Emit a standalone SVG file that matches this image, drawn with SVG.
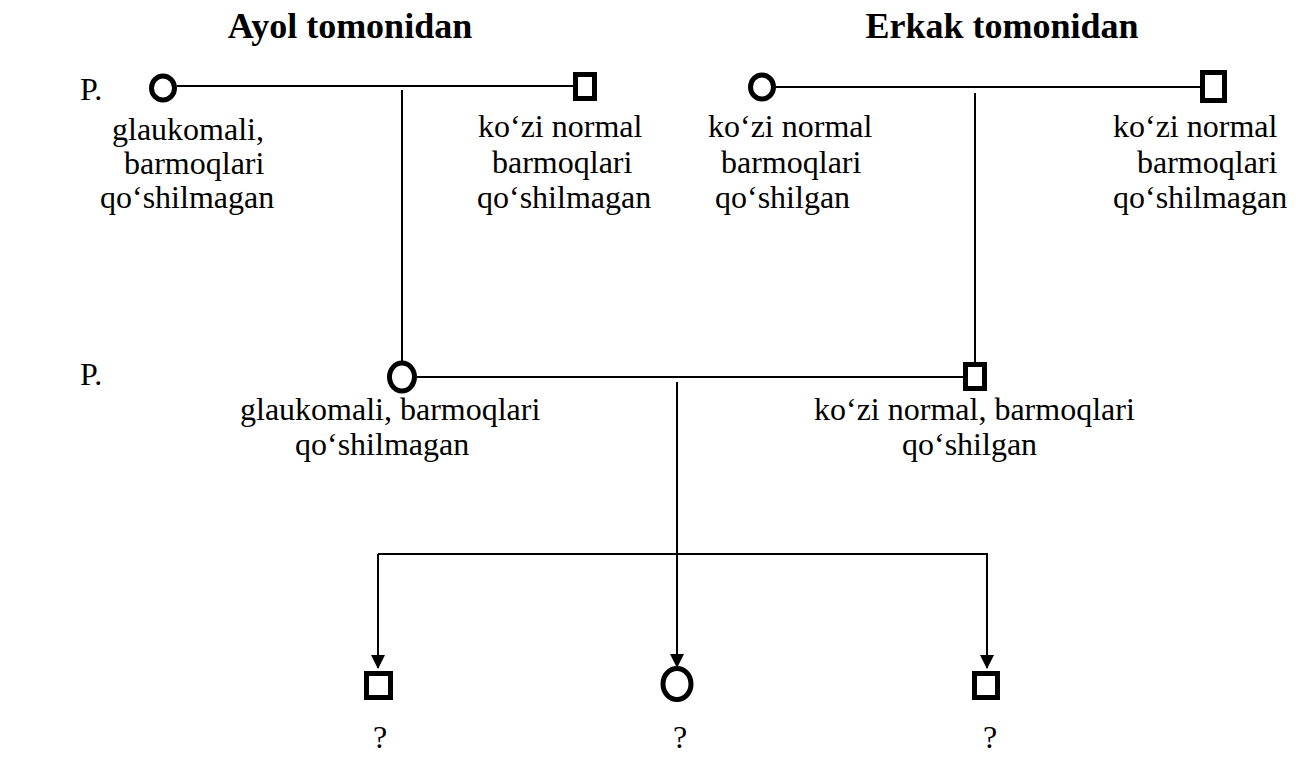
<svg xmlns="http://www.w3.org/2000/svg" width="1301" height="758" viewBox="0 0 1301 758">
<defs>
<style>
.t{font-family:"Liberation Serif","Times New Roman",serif;font-size:32px;fill:#000}
.h{font-family:"Liberation Serif","Times New Roman",serif;font-size:36px;font-weight:bold;fill:#000}
.ln{stroke:#000;stroke-width:2;fill:none}
.sym{stroke:#000;stroke-width:5;fill:#fff}
</style>
<marker id="arr" markerWidth="14" markerHeight="14" refX="7" refY="13" orient="auto-start-reverse" markerUnits="userSpaceOnUse" viewBox="0 0 14 14">
<path d="M0,0 L14,0 L7,14 Z" fill="#000" transform="rotate(0)"/>
</marker>
<marker id="arrd" markerWidth="14" markerHeight="14" refX="13" refY="7" orient="auto" markerUnits="userSpaceOnUse" viewBox="0 0 14 14">
<path d="M0,0 L14,7 L0,14 Z" fill="#000"/>
</marker>
</defs>
<rect width="1301" height="758" fill="#fff"/>
<text class="h" x="350" y="38" text-anchor="middle">Ayol tomonidan</text>
<text class="h" x="1002" y="38" text-anchor="middle">Erkak tomonidan</text>
<text class="t" x="80" y="100">P.</text>
<text class="t" x="80" y="385">P.</text>
<g id="connectors">
<line class="ln" x1="177" y1="86" x2="574" y2="86"/>
<line class="ln" x1="402" y1="90" x2="402" y2="363"/>
<line class="ln" x1="776" y1="87" x2="1201" y2="87"/>
<line class="ln" x1="975" y1="93" x2="975" y2="363"/>
<line class="ln" x1="417" y1="377" x2="964" y2="377"/>
<line class="ln" x1="677" y1="382" x2="677" y2="554"/>
<line class="ln" x1="378" y1="554" x2="988" y2="554"/>
<line class="ln" x1="378" y1="554" x2="378" y2="668" marker-end="url(#arrd)"/>
<line class="ln" x1="677" y1="554" x2="677" y2="667" marker-end="url(#arrd)"/>
<line class="ln" x1="987" y1="554" x2="987" y2="668" marker-end="url(#arrd)"/>
</g>
<g id="p1-female">
<ellipse class="sym" cx="163" cy="88" rx="11.5" ry="12"/>
<text class="t" x="112" y="140">glaukomali,</text>
<text class="t" x="124" y="174">barmoqlari</text>
<text class="t" x="100" y="208">qo‘shilmagan</text>
</g>
<g id="p1-male">
<rect class="sym" x="575.5" y="74.5" width="19" height="24"/>
<text class="t" x="478" y="137">ko‘zi normal</text>
<text class="t" x="492" y="173">barmoqlari</text>
<text class="t" x="477" y="208">qo‘shilmagan</text>
</g>
<g id="p2-female">
<ellipse class="sym" cx="762" cy="87" rx="11.5" ry="12"/>
<text class="t" x="708" y="137">ko‘zi normal</text>
<text class="t" x="721" y="173">barmoqlari</text>
<text class="t" x="715" y="208">qo‘shilgan</text>
</g>
<g id="p2-male">
<rect class="sym" x="1202.5" y="72.5" width="22" height="28"/>
<text class="t" x="1113" y="137">ko‘zi normal</text>
<text class="t" x="1137" y="173">barmoqlari</text>
<text class="t" x="1113" y="208">qo‘shilmagan</text>
</g>
<g id="mother">
<ellipse class="sym" cx="402" cy="377" rx="12.5" ry="14"/>
<text class="t" x="240" y="420">glaukomali, barmoqlari</text>
<text class="t" x="295" y="455">qo‘shilmagan</text>
</g>
<g id="father">
<rect class="sym" x="965.5" y="364.5" width="19" height="24"/>
<text class="t" x="814" y="420">ko‘zi normal, barmoqlari</text>
<text class="t" x="902" y="455">qo‘shilgan</text>
</g>
<g id="child1">
<rect class="sym" x="366.5" y="673.5" width="24" height="24"/>
<text class="t" x="380" y="748" text-anchor="middle">?</text>
</g>
<g id="child2">
<ellipse class="sym" cx="677" cy="684" rx="14" ry="15.5"/>
<text class="t" x="680" y="748" text-anchor="middle">?</text>
</g>
<g id="child3">
<rect class="sym" x="974.5" y="673.5" width="23" height="24"/>
<text class="t" x="990" y="748" text-anchor="middle">?</text>
</g>
</svg>
